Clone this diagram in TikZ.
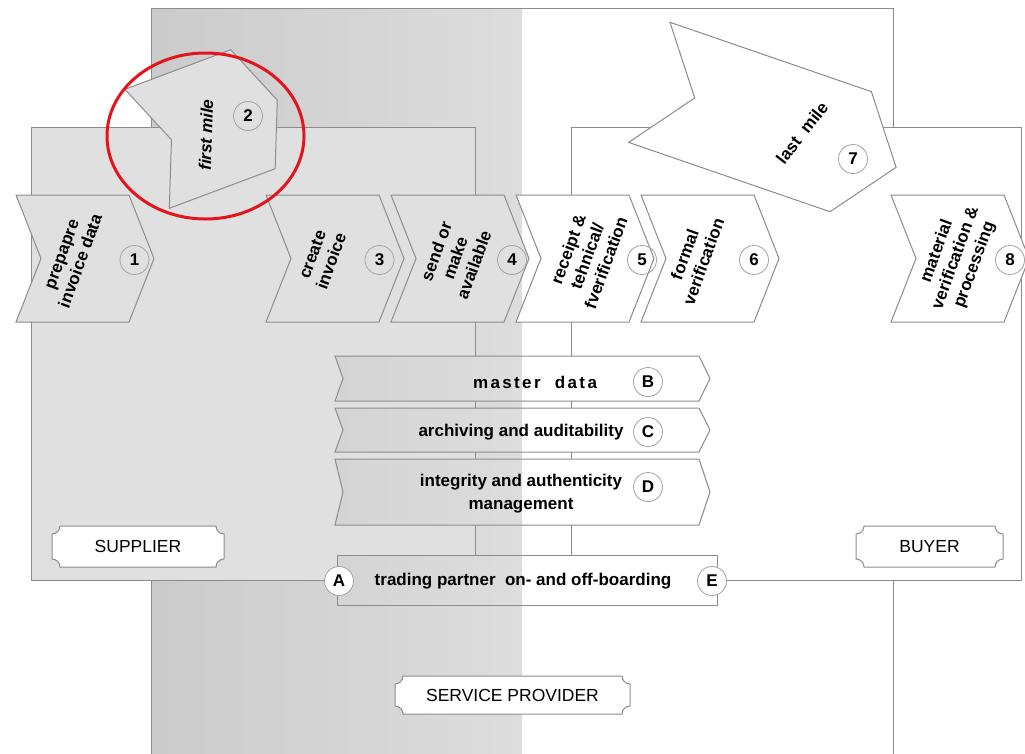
\documentclass[tikz,border=0pt]{standalone}
\usepackage{fontspec}
\setmainfont{Liberation Sans}
\usepackage{tikz}
\usetikzlibrary{positioning}
\usepackage{xcolor}
\definecolor{spdark}{HTML}{CBCBCB}
\definecolor{splight}{HTML}{DDDDDD}
\definecolor{boxgray}{HTML}{E0E0E0}
\definecolor{edgegray}{HTML}{8C8C8C}
\definecolor{ringred}{HTML}{E5141B}

% chevron outline around the local origin: options, half body width, tip depth
\newcommand{\chev}[3]{\draw[#1] (-#2,-63.5) -- (#2,-63.5) -- ({#2+#3},0) -- (#2,63.5) -- (-#2,63.5) -- ({-#2+#3},0) -- cycle;}
% service bar between two heights, filled like the provider band
\newcommand{\svcbar}[2]{%
  \begin{scope}
    \clip (335,#1) -- (699,#1) -- (710,{(#1+#2)/2}) -- (699,#2) -- (335,#2) -- (343,{(#1+#2)/2}) -- cycle;
    \fill[white] (330,#1) rectangle (715,#2);
    \shade[left color=spdark,right color=splight] (151,#1) rectangle (522,#2);
  \end{scope}
  \draw[edgeline] (335,#1) -- (699,#1) -- (710,{(#1+#2)/2}) -- (699,#2) -- (335,#2) -- (343,{(#1+#2)/2}) -- cycle;}
% label plate with notched corners
\newcommand{\plaque}[4]{\draw[edgeline,fill=white] (#1,{#2+8}) arc[start angle=270,end angle=360,radius=8pt] -- ({#3-8},#2) arc[start angle=180,end angle=270,radius=8pt] -- (#3,{#4-8}) arc[start angle=90,end angle=180,radius=8pt] -- ({#1+8},#4) arc[start angle=0,end angle=90,radius=8pt] -- cycle;}

\begin{document}
\begin{tikzpicture}[x=1pt,y=-1pt,
  edgeline/.style={draw=edgegray,line width=1pt},
  stepbox/.style={edgeline,line join=miter},
  steptext/.style={font=\fontsize{17}{20}\selectfont\bfseries,align=center,inner sep=0pt},
  num/.style={circle,draw=edgegray!80,line width=0.8pt,minimum size=29pt,inner sep=0pt,font=\fontsize{17}{20}\selectfont\bfseries},
  tag/.style={font=\fontsize{17.5}{20}\selectfont,inner sep=0pt}]
\useasboundingbox (0,0) rectangle (1025,753);
\clip (0,0) rectangle (1025,753);

% service provider band
\fill[white] (151,8) rectangle (893,760);
\shade[left color=spdark,right color=splight] (151,8) rectangle (522,760);
\draw[edgeline] (151,8) rectangle (893,760);
% supplier and buyer
\draw[edgeline,fill=boxgray] (31,127) rectangle (475,580);
\draw[edgeline,fill=white] (571,127) rectangle (1021,580);

% process steps
\chev{stepbox,fill=boxgray,shift={(72.5,258.5)}}{56.5}{25}
\chev{stepbox,fill=boxgray,shift={(322.5,258.5)}}{56.5}{25}
\chev{stepbox,fill=boxgray,shift={(447.5,258.5)}}{56.5}{25}
\chev{stepbox,fill=white,shift={(572.5,258.5)}}{56.5}{25}
\chev{stepbox,fill=white,shift={(697.5,258.5)}}{56.5}{25}
\chev{stepbox,fill=white,shift={(947.5,258.5)}}{56.5}{25}
\chev{stepbox,fill=boxgray,shift={(200,129)},rotate=20.5}{56.5}{26}
\chev{stepbox,fill=white,shift={(750,117)},rotate=-19}{106.5}{48}

\node (t1) [steptext,rotate=70] at (72,258) {prepapre\\invoice data};
\node (t2) [steptext,rotate=88,font=\fontsize{17}{20}\selectfont\bfseries\itshape] at (206,135) {first mile};
\node (t3) [steptext,rotate=70] at (322,258) {create\\invoice};
\node (t4) [steptext,rotate=70] at (455,258) {send or\\make\\available};
\node (t5) [steptext,rotate=70] at (587,256) {receipt \&\\tehnical/\\fverification};
\node (t6) [steptext,rotate=70] at (694,258) {formal\\verification};
\node (t7) [steptext,rotate=52] at (802,133) {last~~mile};
\node (t8) [steptext,rotate=70] at (956,258) {material\\verification \&\\processing};

\node (n1) [num] at (134.5,260) {1};
\node (n2) [num] at (248,116) {2};
\node (n3) [num] at (379.5,260) {3};
\node (n4) [num] at (512,260) {4};
\node (n5) [num] at (642,260) {5};
\node (n6) [num] at (754,260) {6};
\node (n7) [num] at (853,159) {7};
\node (n8) [num] at (1010,260) {8};

% cross-cutting services
\svcbar{356}{401}
\svcbar{408}{452}
\svcbar{459}{525}
\begin{scope}
  \clip (337,555) rectangle (717,605);
  \fill[white] (337,555) rectangle (717,605);
  \shade[left color=spdark,right color=splight] (151,555) rectangle (522,605);
\end{scope}
\draw[edgeline] (337,555) rectangle (717,605);

\node (sB) [steptext,font=\fontsize{17}{20}\selectfont\bfseries\addfontfeature{LetterSpace=14}] at (535,382) {master~~data};
\node (sC) [steptext] at (521,432) {archiving and auditability};
\node (sD) [steptext,font=\fontsize{17}{23}\selectfont\bfseries] at (521,494) {integrity and authenticity\\management};
\node (sA) [steptext] at (523,581) {trading partner~~on- and off-boarding};
\node (nB) [num] at (648,382) {B};
\node (nC) [num] at (648,432) {C};
\node (nD) [num] at (648,487) {D};
\node (nA) [num,fill=white] at (339,581) {A};
\node (nE) [num,fill=white] at (712,581) {E};

% role labels
\plaque{52}{526}{224}{567}
\node (supplier) [tag] at (138,546.5) {SUPPLIER};
\plaque{856}{526}{1003}{567}
\node (buyer) [tag] at (929.5,546.5) {BUYER};
\plaque{395}{676}{630}{714}
\node (provider) [tag] at (512.5,695) {SERVICE PROVIDER};

% highlight
\draw[ringred,line width=3pt] (205.5,136) ellipse [x radius=98.5pt,y radius=83pt];
\end{tikzpicture}
\end{document}
